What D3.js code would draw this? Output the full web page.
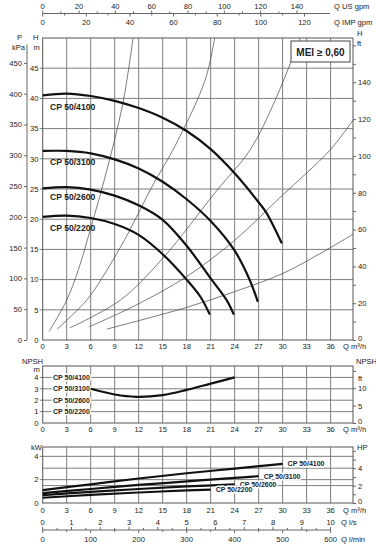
<!DOCTYPE html>
<html>
<head>
<meta charset="utf-8">
<script src="https://cdn.jsdelivr.net/npm/d3@7/dist/d3.min.js"></script>
<style>
  body { margin: 0; background: #fff; }
  svg { display: block; }
  text { font-family: "Liberation Sans", Arial, sans-serif; fill: #222; }
  .grid line { stroke: #7d7d7d; stroke-width: 1; }
  .frame { fill: none; stroke: #555; stroke-width: 1; }
  .tick-lbl { font-size: 7.6px; }
  .pump { fill: none; stroke: #111; stroke-width: 2.2; }
  .sys { fill: none; stroke: #444; stroke-width: 0.7; }
  .name { font-size: 8.6px; font-weight: bold; }
  .small-name { font-size: 7px; font-weight: bold; }
</style>
</head>
<body>
<svg width="376" height="544"></svg>
<script>
// pump curves H (m) against Q (m3/h)
var pumpNames = ["CP 50/4100", "CP 50/3100", "CP 50/2600", "CP 50/2200"];
var hq4100 = [[0, 40.5], [3, 40.8], [6, 40.4], [9, 39.6], [12, 38.4], [15, 36.8], [18, 34.6], [21, 31.6], [24, 27.6], [27, 22.8], [28, 21.0], [29.9, 16.0]];
var hq3100 = [[0, 31.3], [3, 31.3], [6, 30.9], [9, 29.9], [12, 28.4], [15, 26.2], [18, 23.3], [21, 19.7], [24, 14.8], [25.9, 9.9], [26.9, 6.3]];
var hq2600 = [[0, 25.1], [3, 25.3], [6, 24.9], [9, 23.9], [12, 22.3], [15, 19.9], [18, 15.6], [21, 10.2], [23, 6.6], [23.9, 4.2]];
var hq2200 = [[0, 20.4], [3, 20.6], [6, 20.2], [9, 19.2], [12, 17.4], [15, 14.2], [18, 10.0], [19.7, 7.2], [20.9, 4.2]];

// thin system curves
var sys1 = [[0.8, 1.4], [3, 6.6], [4.5, 11.8], [6, 18.5], [8, 28], [10, 39], [11.3, 50]];
var sys2 = [[1.8, 1.8], [5.5, 6.6], [8, 11.5], [10.9, 18.2], [13.5, 25], [16.5, 32], [20.3, 43], [21.5, 50]];
var sys3 = [[3.4, 2.0], [9.7, 6.6], [15, 13.5], [21.8, 24.8], [25.9, 31.4], [29, 39.5], [32.2, 50]];
var sys4 = [[5.8, 2.2], [7.2, 3.0], [12, 6], [18, 10.5], [24, 16.5], [30, 24], [35.9, 31.4], [38.8, 36.4]];
var sys5 = [[8, 1.8], [12, 3.2], [18, 5.4], [24, 8.0], [30, 11], [34, 13.8], [38.8, 17.5]];

// NPSH (m), same for all pumps
var npsh = [[6, 3.0], [9, 2.5], [11.7, 2.3], [15, 2.45], [18, 2.9], [21, 3.45], [24, 4.0]];

// power P2 (kW)
var kw4100 = [[0, 1.1], [6, 1.6], [12, 2.1], [18, 2.55], [24, 2.95], [30, 3.35]];
var kw3100 = [[0, 0.85], [6, 1.2], [12, 1.55], [18, 1.85], [24, 2.15], [27, 2.3]];
var kw2600 = [[0, 0.68], [6, 0.95], [12, 1.2], [18, 1.42], [24, 1.6]];
var kw2200 = [[0, 0.45], [6, 0.7], [12, 0.9], [18, 1.08], [21, 1.15]];

// axis tick labels
var qTicks = [0, 3, 6, 9, 12, 15, 18, 21, 24, 27, 30, 33, 36];
var usTicks = [0, 20, 40, 60, 80, 100, 120, 140];
var impTicks = [0, 20, 40, 60, 80, 100, 120];
var lsTicks = [0, 1, 2, 3, 4, 5, 6, 7, 8, 9, 10];
var lminTicks = [0, 100, 200, 300, 400, 500, 600];
var hTicks = [0, 5, 10, 15, 20, 25, 30, 35, 40, 45];
var kpaTicks = [0, 50, 100, 150, 200, 250, 300, 350, 400, 450];
var ftTicks = [0, 20, 40, 60, 80, 100, 120, 140];
var npshTicks = [0, 1, 2, 3, 4];
var npshFtTicks = [0, 5, 10];
var kwTicks = [0, 2, 4];
var hpTicks = [0, 2, 4];

var svg = d3.select("svg");

// shared flow scale
var x = d3.scaleLinear().domain([0, 38.8]).range([42.7, 353]);

// styling for d3 axes
function styleAxis(a) {
  a.selectAll("line").attr("stroke", "#666");
  a.selectAll("text").attr("class", "tick-lbl").attr("font-size", null).attr("font-family", null);
}

// ---------- top flow axes ----------
var xUs = d3.scaleLinear().domain([0, 38.8 / 0.22712]).range(x.range());
var xImp = d3.scaleLinear().domain([0, 38.8 / 0.27277]).range(x.range());
var topAx = svg.append("g");
topAx.append("line").attr("x1", x(0)).attr("x2", 330).attr("y1", 13.5).attr("y2", 13.5).attr("stroke", "#666");
topAx.selectAll(".us").data(d3.range(0, 150, 10)).enter().append("line")
    .attr("x1", function(d) { return xUs(d); }).attr("x2", function(d) { return xUs(d); })
    .attr("y1", 13.5).attr("y2", function(d) { return d % 20 ? 11.5 : 10.5; }).attr("stroke", "#666");
topAx.selectAll(".imp").data(d3.range(0, 130, 10)).enter().append("line")
    .attr("x1", function(d) { return xImp(d); }).attr("x2", function(d) { return xImp(d); })
    .attr("y1", 13.5).attr("y2", function(d) { return d % 20 ? 15.5 : 16.5; }).attr("stroke", "#666");
topAx.selectAll(".usl").data(usTicks).enter().append("text").attr("class", "tick-lbl")
    .attr("x", function(d) { return xUs(d); }).attr("y", 9).attr("text-anchor", "middle").text(function(d) { return d; });
topAx.selectAll(".impl").data(impTicks).enter().append("text").attr("class", "tick-lbl")
    .attr("x", function(d) { return xImp(d); }).attr("y", 25).attr("text-anchor", "middle").text(function(d) { return d; });
topAx.append("text").attr("class", "tick-lbl").attr("x", 334).attr("y", 9).text("Q US gpm");
topAx.append("text").attr("class", "tick-lbl").attr("x", 334).attr("y", 25).text("Q IMP gpm");

// ---------- H-Q panel ----------
var yH = d3.scaleLinear().domain([0, 50]).range([340, 38]);
var yKpa = d3.scaleLinear().domain([0, 50 * 9.81]).range([340, 38]);
var yFt = d3.scaleLinear().domain([0, 50 / 0.3048]).range([340, 38]);

var g1 = svg.append("g");
var grid1 = g1.append("g").attr("class", "grid");
grid1.selectAll(".v").data(qTicks.slice(1)).enter().append("line")
    .attr("x1", function(d) { return x(d); }).attr("x2", function(d) { return x(d); })
    .attr("y1", yH(50)).attr("y2", yH(0));
grid1.selectAll(".h").data(hTicks.slice(1)).enter().append("line")
    .attr("x1", x(0) - 3).attr("x2", x.range()[1])
    .attr("y1", function(d) { return yH(d); }).attr("y2", function(d) { return yH(d); });
g1.append("rect").attr("class", "frame")
    .attr("x", x(0)).attr("y", yH(50)).attr("width", x.range()[1] - x(0)).attr("height", yH(0) - yH(50));

// left H and kPa axes
g1.selectAll(".hl").data(hTicks).enter().append("text").attr("class", "tick-lbl")
    .attr("x", 38.5).attr("y", function(d) { return yH(d) + 2.7; }).attr("text-anchor", "end").text(function(d) { return d; });
g1.append("text").attr("class", "tick-lbl").attr("x", 33).attr("y", 40).text("H");
g1.append("text").attr("class", "tick-lbl").attr("x", 33.5).attr("y", 50).text("m");
g1.append("g").attr("transform", "translate(27,0)")
    .call(d3.axisLeft(yKpa).tickValues(kpaTicks).tickSize(3).tickPadding(2))
    .call(function(a) {
      a.select(".domain").attr("stroke", "#666").attr("d", "M0," + yKpa(480) + "V" + yKpa(0));
      styleAxis(a);
    });
g1.append("text").attr("class", "tick-lbl").attr("x", 17).attr("y", 40).text("P");
g1.append("text").attr("class", "tick-lbl").attr("x", 12).attr("y", 50).text("kPa");

// right ft axis
g1.append("g").attr("transform", "translate(" + x.range()[1] + ",0)")
    .call(d3.axisRight(yFt).tickValues(d3.range(0, 170, 10)).tickSize(3).tickPadding(2)
      .tickFormat(function(d) { return (d % 20 === 0 && d <= 140) ? d : ""; }))
    .call(function(a) {
      a.select(".domain").remove();
      styleAxis(a);
      a.selectAll("text").attr("dy", function(d) { return d === 0 ? "0" : "0.32em"; });
    });
g1.append("text").attr("class", "tick-lbl").attr("x", 357).attr("y", 36).text("H");
g1.append("text").attr("class", "tick-lbl").attr("x", 357).attr("y", 46).text("ft");

// x labels
g1.selectAll(".ql").data(qTicks).enter().append("text").attr("class", "tick-lbl")
    .attr("x", function(d) { return x(d); }).attr("y", 349).attr("text-anchor", "middle").text(function(d) { return d; });
g1.append("text").attr("class", "tick-lbl").attr("x", 343).attr("y", 349).text("Q m³/h");

var lineH = d3.line().curve(d3.curveCatmullRom.alpha(0.5))
    .x(function(d) { return x(d[0]); })
    .y(function(d) { return yH(d[1]); });

[sys1, sys2, sys3, sys4, sys5].forEach(function(s) {
  g1.append("path").datum(s).attr("class", "sys").attr("d", lineH);
});
var pumpsHQ = [hq4100, hq3100, hq2600, hq2200];
pumpsHQ.forEach(function(s) {
  g1.append("path").datum(s).attr("class", "pump").attr("d", lineH);
});
// pump names under each curve
var nameY = [107, 162, 197, 228];
pumpNames.forEach(function(n, i) {
  g1.append("text").attr("class", "name").attr("x", 50).attr("y", nameY[i] + 3).text(n);
});

// MEI box
g1.append("rect").attr("x", 291).attr("y", 41).attr("width", 59).attr("height", 21)
    .attr("fill", "#fff").attr("stroke", "#444");
g1.append("text").attr("x", 320.5).attr("y", 55.5).attr("text-anchor", "middle")
    .style("font-size", "10px").style("font-weight", "bold").text("MEI ≥ 0,60");

// ---------- NPSH panel ----------
var yN = d3.scaleLinear().domain([0, 5]).range([423, 366]);
var yNft = d3.scaleLinear().domain([0, 5 / 0.3048]).range([423, 366]);
var g2 = svg.append("g");
var grid2 = g2.append("g").attr("class", "grid");
grid2.selectAll(".v").data(qTicks.slice(1)).enter().append("line")
    .attr("x1", function(d) { return x(d); }).attr("x2", function(d) { return x(d); })
    .attr("y1", yN(5)).attr("y2", yN(0));
grid2.selectAll(".h").data(npshTicks.slice(1)).enter().append("line")
    .attr("x1", x(0) - 3).attr("x2", x.range()[1])
    .attr("y1", function(d) { return yN(d); }).attr("y2", function(d) { return yN(d); });
g2.append("rect").attr("class", "frame")
    .attr("x", x(0)).attr("y", yN(5)).attr("width", x.range()[1] - x(0)).attr("height", yN(0) - yN(5));
g2.selectAll(".nl").data(npshTicks).enter().append("text").attr("class", "tick-lbl")
    .attr("x", 38.5).attr("y", function(d) { return yN(d) + 2.7; }).attr("text-anchor", "end").text(function(d) { return d; });
g2.append("text").attr("class", "tick-lbl").attr("x", 22).attr("y", 364).text("NPSH");
g2.append("text").attr("class", "tick-lbl").attr("x", 33.5).attr("y", 372).text("m");
g2.append("g").attr("transform", "translate(" + x.range()[1] + ",0)")
    .call(d3.axisRight(yNft).tickValues([0, 5, 10, 15]).tickSize(3).tickPadding(2)
      .tickFormat(function(d) { return npshFtTicks.indexOf(d) >= 0 ? d : ""; }))
    .call(function(a) {
      a.select(".domain").remove();
      styleAxis(a);
      a.selectAll("text").attr("dy", function(d) { return d === 0 ? "0" : "0.32em"; });
    });
g2.append("text").attr("class", "tick-lbl").attr("x", 356).attr("y", 364).text("NPSH");
g2.append("text").attr("class", "tick-lbl").attr("x", 358).attr("y", 381).text("ft");
g2.selectAll(".ql").data(qTicks).enter().append("text").attr("class", "tick-lbl")
    .attr("x", function(d) { return x(d); }).attr("y", 432).attr("text-anchor", "middle").text(function(d) { return d; });
g2.append("text").attr("class", "tick-lbl").attr("x", 343).attr("y", 432).text("Q m³/h");
pumpNames.forEach(function(n, i) {
  g2.append("text").attr("class", "small-name").attr("x", 53).attr("y", yN(4 - i) + 2.5)
      .attr("stroke", "#fff").attr("stroke-width", 3).attr("paint-order", "stroke").text(n);
});
var lineN = d3.line().curve(d3.curveCatmullRom.alpha(0.5))
    .x(function(d) { return x(d[0]); })
    .y(function(d) { return yN(d[1]); });
g2.append("path").datum(npsh).attr("class", "pump").attr("d", lineN);

// ---------- power panel ----------
var yK = d3.scaleLinear().domain([0, 4.8]).range([503, 447]);
var yHp = d3.scaleLinear().domain([0, 4.8 / 0.7457]).range([503, 447]);
var g3 = svg.append("g");
var grid3 = g3.append("g").attr("class", "grid");
grid3.selectAll(".v").data(qTicks.slice(1)).enter().append("line")
    .attr("x1", function(d) { return x(d); }).attr("x2", function(d) { return x(d); })
    .attr("y1", yK(4.8)).attr("y2", yK(0));
grid3.selectAll(".h").data([2, 4]).enter().append("line")
    .attr("x1", x(0) - 3).attr("x2", x.range()[1])
    .attr("y1", function(d) { return yK(d); }).attr("y2", function(d) { return yK(d); });
grid3.selectAll(".hh").data([2, 4]).enter().append("line")
    .attr("x1", x(0)).attr("x2", x.range()[1])
    .attr("y1", function(d) { return yHp(d); }).attr("y2", function(d) { return yHp(d); });
g3.append("rect").attr("class", "frame")
    .attr("x", x(0)).attr("y", yK(4.8)).attr("width", x.range()[1] - x(0)).attr("height", yK(0) - yK(4.8));
g3.selectAll(".kl").data(kwTicks).enter().append("text").attr("class", "tick-lbl")
    .attr("x", 38.5).attr("y", function(d) { return yK(d) + 2.7; }).attr("text-anchor", "end").text(function(d) { return d; });
g3.append("text").attr("class", "tick-lbl").attr("x", 31).attr("y", 450).text("kW");
g3.append("g").attr("transform", "translate(" + x.range()[1] + ",0)")
    .call(d3.axisRight(yHp).tickValues([0, 1, 2, 3, 4, 5, 6]).tickSize(3).tickPadding(2)
      .tickFormat(function(d) { return hpTicks.indexOf(d) >= 0 ? d : ""; }))
    .call(function(a) {
      a.select(".domain").remove();
      styleAxis(a);
      a.selectAll("text").attr("dy", function(d) { return d === 0 ? "0" : "0.32em"; });
    });
g3.append("text").attr("class", "tick-lbl").attr("x", 357).attr("y", 450).text("HP");
g3.selectAll(".ql").data(qTicks).enter().append("text").attr("class", "tick-lbl")
    .attr("x", function(d) { return x(d); }).attr("y", 513).attr("text-anchor", "middle").text(function(d) { return d; });
g3.append("text").attr("class", "tick-lbl").attr("x", 343).attr("y", 513).text("Q m³/h");

var lineK = d3.line().curve(d3.curveCatmullRom.alpha(0.5))
    .x(function(d) { return x(d[0]); })
    .y(function(d) { return yK(d[1]); });
var powers = [kw4100, kw3100, kw2600, kw2200];
powers.forEach(function(s, i) {
  g3.append("path").datum(s).attr("class", "pump").attr("stroke-width", 1.8).attr("d", lineK);
  var last = s[s.length - 1];
  g3.append("text").attr("class", "small-name").attr("x", x(last[0]) + 5).attr("y", yK(last[1]) + 2.5)
      .attr("stroke", "#fff").attr("stroke-width", 3).attr("paint-order", "stroke").text(pumpNames[i]);
});

// ---------- bottom flow axes ----------
var xLs = d3.scaleLinear().domain([0, 38.8 / 3.6]).range(x.range());
var xLmin = d3.scaleLinear().domain([0, 38.8 * 1000 / 60]).range(x.range());
var bot = svg.append("g");
bot.append("line").attr("x1", x(0)).attr("x2", 330).attr("y1", 530).attr("y2", 530).attr("stroke", "#666");
bot.selectAll(".lst").data(d3.range(0, 10.5, 0.5)).enter().append("line")
    .attr("x1", function(d) { return xLs(d); }).attr("x2", function(d) { return xLs(d); })
    .attr("y1", 530).attr("y2", function(d) { return d % 1 ? 528 : 527; }).attr("stroke", "#666");
bot.selectAll(".lmt").data(d3.range(0, 650, 50)).enter().append("line")
    .attr("x1", function(d) { return xLmin(d); }).attr("x2", function(d) { return xLmin(d); })
    .attr("y1", 530).attr("y2", function(d) { return d % 100 ? 532 : 533; }).attr("stroke", "#666");
bot.selectAll(".lsl").data(lsTicks).enter().append("text").attr("class", "tick-lbl")
    .attr("x", function(d) { return xLs(d); }).attr("y", 524.5).attr("text-anchor", "middle").text(function(d) { return d; });
bot.selectAll(".lml").data(lminTicks).enter().append("text").attr("class", "tick-lbl")
    .attr("x", function(d) { return xLmin(d); }).attr("y", 542).attr("text-anchor", "middle").text(function(d) { return d; });
bot.append("text").attr("class", "tick-lbl").attr("x", 341).attr("y", 524.5).text("Q l/s");
bot.append("text").attr("class", "tick-lbl").attr("x", 341).attr("y", 542).text("Q l/min");
</script>
</body>
</html>
